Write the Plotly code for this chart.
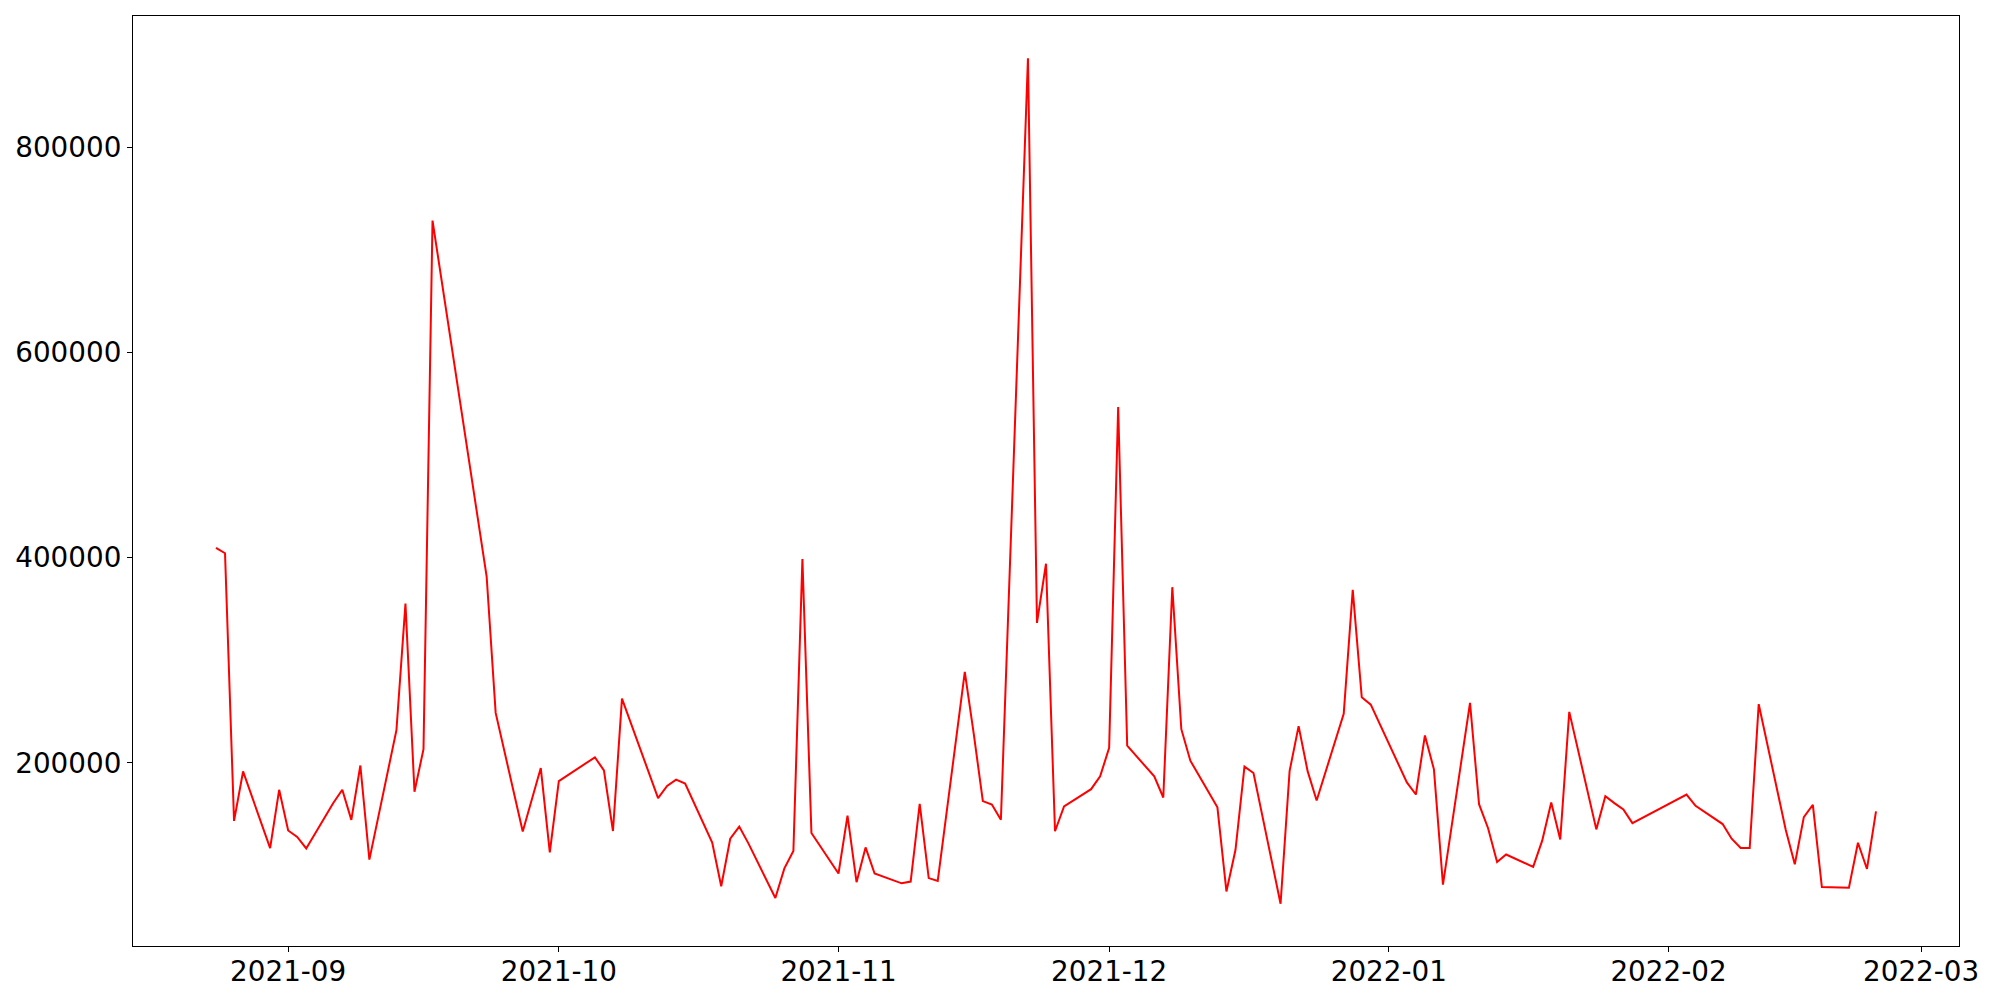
import pandas as pd
import plotly.graph_objects as go

dates = [
    "2021-08-24", "2021-08-25", "2021-08-26", "2021-08-27", "2021-08-30", "2021-08-31",
    "2021-09-01", "2021-09-02", "2021-09-03", "2021-09-06", "2021-09-07", "2021-09-08",
    "2021-09-09", "2021-09-10", "2021-09-13", "2021-09-14", "2021-09-15", "2021-09-16",
    "2021-09-17", "2021-09-23", "2021-09-24", "2021-09-27", "2021-09-29", "2021-09-30",
    "2021-10-01", "2021-10-05", "2021-10-06", "2021-10-07", "2021-10-08", "2021-10-12",
    "2021-10-13", "2021-10-14", "2021-10-15", "2021-10-18", "2021-10-19", "2021-10-20",
    "2021-10-21", "2021-10-22", "2021-10-25", "2021-10-26", "2021-10-27", "2021-10-28",
    "2021-10-29", "2021-11-01", "2021-11-02", "2021-11-03", "2021-11-04", "2021-11-05",
    "2021-11-08", "2021-11-09", "2021-11-10", "2021-11-11", "2021-11-12", "2021-11-15",
    "2021-11-16", "2021-11-17", "2021-11-18", "2021-11-19", "2021-11-22", "2021-11-23",
    "2021-11-24", "2021-11-25", "2021-11-26", "2021-11-29", "2021-11-30", "2021-12-01",
    "2021-12-02", "2021-12-03", "2021-12-06", "2021-12-07", "2021-12-08", "2021-12-09",
    "2021-12-10", "2021-12-13", "2021-12-14", "2021-12-15", "2021-12-16", "2021-12-17",
    "2021-12-20", "2021-12-21", "2021-12-22", "2021-12-23", "2021-12-24", "2021-12-27",
    "2021-12-28", "2021-12-29", "2021-12-30", "2022-01-03", "2022-01-04", "2022-01-05",
    "2022-01-06", "2022-01-07", "2022-01-10", "2022-01-11", "2022-01-12", "2022-01-13",
    "2022-01-14", "2022-01-17", "2022-01-18", "2022-01-19", "2022-01-20", "2022-01-21",
    "2022-01-24", "2022-01-25", "2022-01-26", "2022-01-27", "2022-01-28", "2022-02-03",
    "2022-02-04", "2022-02-07", "2022-02-08", "2022-02-09", "2022-02-10", "2022-02-11",
    "2022-02-14", "2022-02-15", "2022-02-16", "2022-02-17", "2022-02-18", "2022-02-21",
    "2022-02-22", "2022-02-23", "2022-02-24",
]

values = [
    409600, 404400, 143400, 191600, 116900, 173700,
    134000, 127800, 116500, 160900, 173700, 144400,
    197400, 105600, 231800, 355300, 171800, 213400,
    728800, 381700, 248700, 133000, 194900, 112700,
    182200, 205400, 192600, 133500, 262600, 165600,
    177500, 183600, 179800, 122200, 79600, 126000,
    137800, 121700, 68200, 97100, 114000, 398700,
    131600, 92100, 148600, 83600, 117500, 92100,
    82500, 84200, 159900, 87600, 84800, 288600,
    227700, 162700, 159300, 144600, 887100, 336500,
    394200, 133300, 157600, 174300, 186800, 214600,
    547000, 216700, 186800, 166200, 371300, 232800,
    202100, 156600, 74600, 115000, 196300, 190100,
    62600, 191900, 235800, 191900, 163300, 247900,
    368700, 264000, 256700, 180900, 169100, 226700,
    193700, 81300, 258500, 159700, 136200, 103300,
    110600, 98500, 124100, 161400, 125200, 249700,
    135100, 167400, 160700, 154500, 141200, 169000,
    158100, 140300, 126000, 116900, 116900, 257200,
    134500, 101000, 147100, 159100, 78900, 78300,
    122100, 96500, 152700,
]

y_ticks = [200000, 400000, 600000, 800000]

x = pd.to_datetime(dates)
span = x.max() - x.min()
x_range = [x.min() - 0.05 * span, x.max() + 0.05 * span]
vspan = max(values) - min(values)
y_range = [min(values) - 0.05 * vspan, max(values) + 0.05 * vspan]

fig = go.Figure()
fig.add_trace(go.Scatter(
    x=x, y=values, mode="lines",
    line=dict(color="#ff0000", width=2),
    showlegend=False,
))

axis_common = dict(
    showgrid=False, zeroline=False,
    showline=True, mirror=True, linecolor="black", linewidth=1.1,
    ticks="outside", ticklen=5, tickwidth=1.1, tickcolor="black",
    tickfont=dict(family="DejaVu Sans", size=27.8, color="black"),
)

fig.update_layout(
    width=2000, height=1000,
    margin=dict(l=122, r=49, t=7, b=62),
    paper_bgcolor="white", plot_bgcolor="white",
    xaxis=dict(range=[x_range[0].isoformat(), x_range[1].isoformat()],
               type="date", dtick="M1", tickformat="%Y-%m",
               ticklabelstandoff=-4, **axis_common),
    yaxis=dict(range=y_range, tickvals=y_ticks, tickformat="d", **axis_common),
)

fig.write_html("out.html")
